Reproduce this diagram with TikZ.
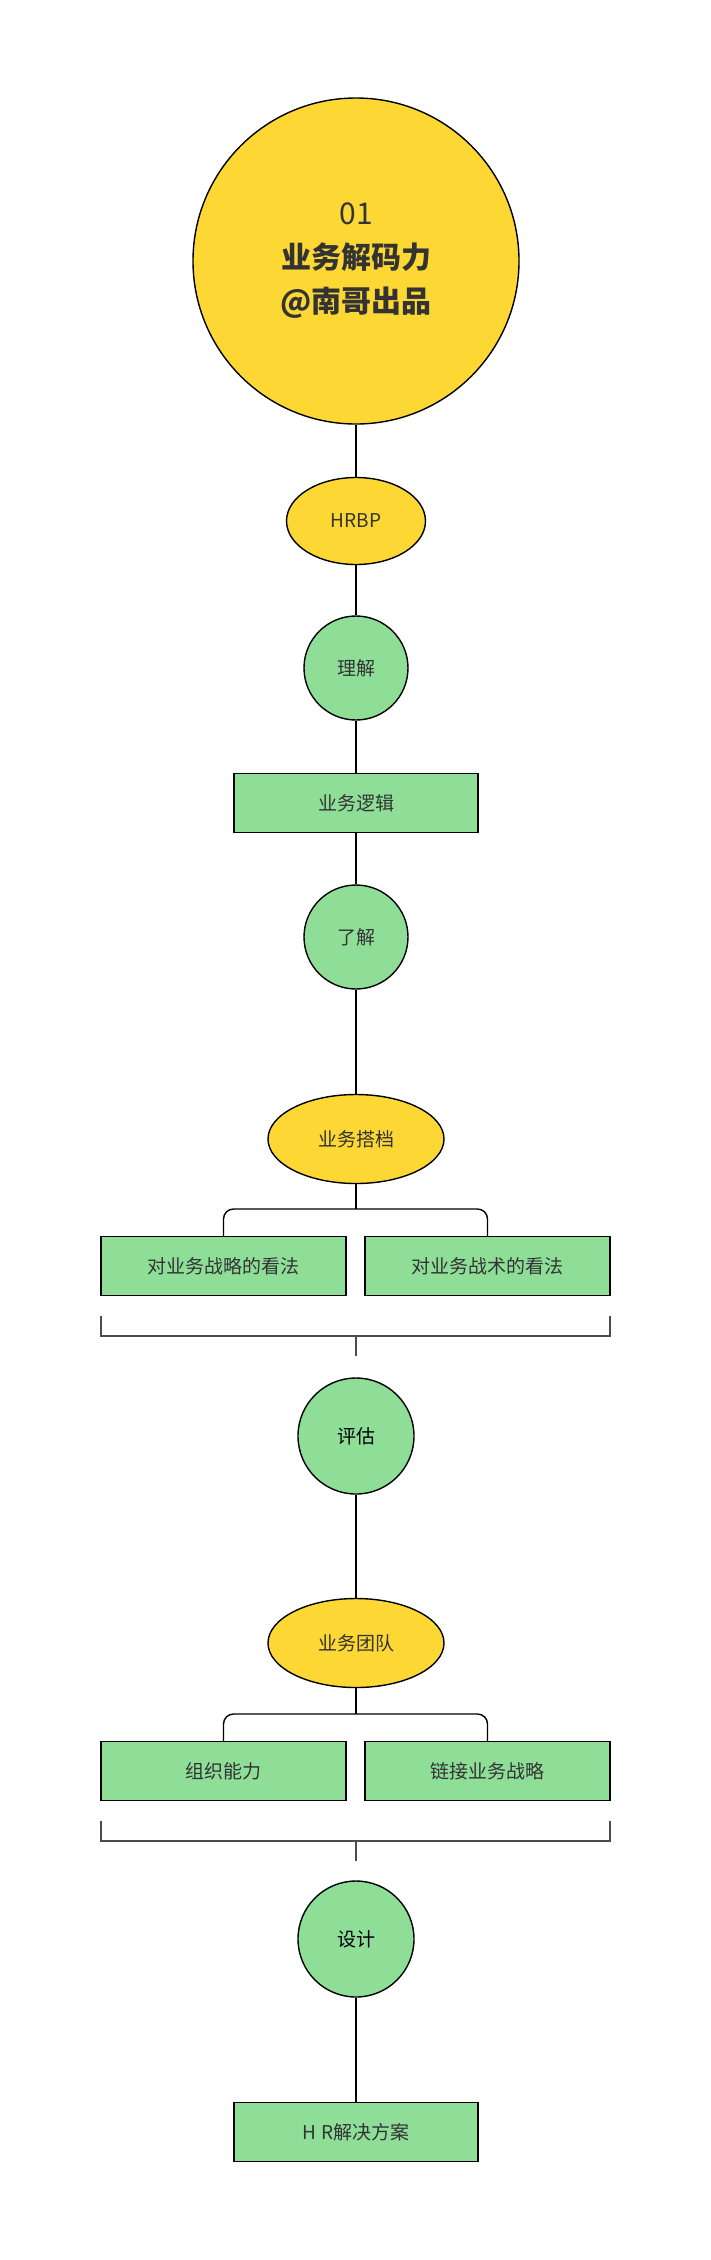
\documentclass[tikz,border=0pt]{standalone}
\usepackage{fontspec}
\setmainfont{Noto Sans CJK SC}
\usetikzlibrary{shapes.geometric}
\definecolor{yel}{HTML}{FDD835}
\definecolor{grn}{HTML}{8FDE98}
\definecolor{txt}{HTML}{333333}
\begin{document}
\begin{tikzpicture}[x=1pt,y=-1pt,
  base/.style={draw=black,line width=1.4pt,text=txt,font=\fontsize{19}{22}\selectfont,inner sep=0pt},
  yell/.style={base,ellipse,fill=yel},
  gcirc/.style={base,circle,fill=grn},
  gbox/.style={base,rectangle,fill=grn,minimum width=244pt,minimum height=59pt},
  ln/.style={line width=1.4pt,black},
  br/.style={line width=1.4pt,black!70}]
\useasboundingbox (0,0) rectangle (710,2260);
\node[yell,minimum size=326pt,align=center,font=\fontsize{30}{44}\selectfont] (top) at (356,261) {01\\\textbf{业务解码力}\\\textbf{@南哥出品}};
\node[yell,minimum width=139pt,minimum height=87pt] (hrbp) at (356,521) {HRBP};
\node[gcirc,minimum size=104pt] (lj) at (356,668) {理解};
\node[gbox] (yw) at (356,803) {业务逻辑};
\node[gcirc,minimum size=104pt] (lj2) at (356,937) {了解};
\node[yell,minimum width=176pt,minimum height=89pt] (dd) at (356,1139) {业务搭档};
\node[gbox,minimum width=245pt] (b1) at (223.5,1266) {对业务战略的看法};
\node[gbox,minimum width=245pt] (b2) at (487.5,1266) {对业务战术的看法};
\node[gcirc,minimum size=116pt,text=black] (pg) at (356,1436) {评估};
\node[yell,minimum width=176pt,minimum height=89pt] (td) at (356,1643) {业务团队};
\node[gbox,minimum width=245pt] (c1) at (223.5,1771) {组织能力};
\node[gbox,minimum width=245pt] (c2) at (487.5,1771) {链接业务战略};
\node[gcirc,minimum size=116pt,text=black] (sj) at (356,1939) {设计};
\node[gbox] (hr) at (356,2132) {H R解决方案};
\coordinate (s1) at (356,1356);
\coordinate (s2) at (356,1861);
\draw[ln] (top) -- (hrbp);
\draw[ln] (hrbp) -- (lj);
\draw[ln] (lj) -- (yw);
\draw[ln] (yw) -- (lj2);
\draw[ln] (lj2) -- (dd);
\draw[ln] (dd) -- (356,1209);
\draw[ln,rounded corners=10pt] (b1.north) -- (223.5,1209) -- (487.5,1209) -- (b2.north);
\draw[br] (101,1316) -- (101,1336) -- (610,1336) -- (610,1316);
\draw[br] (356,1336) -- (s1);
\draw[ln] (pg) -- (td);
\draw[ln] (td) -- (356,1714);
\draw[ln,rounded corners=10pt] (c1.north) -- (223.5,1714) -- (487.5,1714) -- (c2.north);
\draw[br] (101,1821) -- (101,1841) -- (610,1841) -- (610,1821);
\draw[br] (356,1841) -- (s2);
\draw[ln] (sj) -- (hr);
\end{tikzpicture}
\end{document}
